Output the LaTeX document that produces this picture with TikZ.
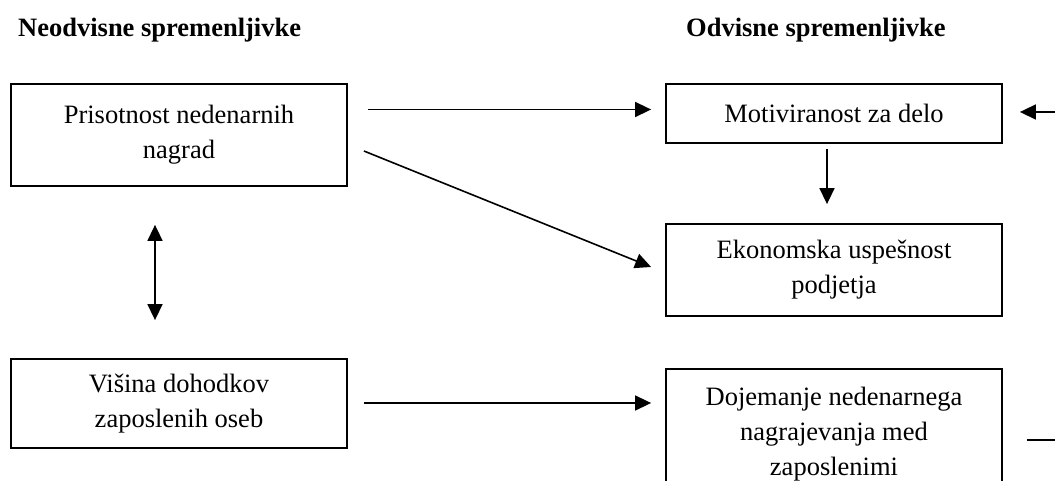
\documentclass[tikz,border=0pt]{standalone}
\usepackage{fontspec}
\setmainfont{Liberation Serif}
\usetikzlibrary{arrows.meta}
\begin{document}
\begin{tikzpicture}[x=1pt,y=1pt,
  box/.style={draw, line width=1.8pt, rectangle, minimum width=336pt, inner sep=0pt, align=center,
    font=\fontsize{26.5}{35}\selectfont},
  head/.style={anchor=base west, inner sep=0pt, font=\fontsize{26.5}{32}\selectfont\bfseries},
  arr/.style={line width=1.6pt, -{Triangle[length=16pt,width=15pt]}},
  dbl/.style={line width=1.6pt, {Triangle[length=16pt,width=15pt]}-{Triangle[length=16pt,width=15pt]}},
  plain/.style={line width=1.6pt}]
\useasboundingbox (0,0) rectangle (1055,481);
\clip (0,0) rectangle (1055,481);
\node[head] (h1) at (18,444) {Neodvisne spremenljivke};
\node[head] (h2) at (686,444) {Odvisne spremenljivke};
\node[box, minimum height=102pt] (b1) at (179,346) {Prisotnost nedenarnih\\nagrad};
\node[box, minimum height=59pt] (b2) at (834,367.5) {Motiviranost za delo};
\node[box, minimum height=92pt] (b3) at (834,211) {Ekonomska uspešnost\\podjetja};
\node[box, minimum height=89pt] (b4) at (179,77.5) {Višina dohodkov\\zaposlenih oseb};
\node[box, minimum height=130pt] (b5) at (834,47) {Dojemanje nedenarnega\\nagrajevanja med\\zaposlenimi};
\coordinate (r1) at (1060,369);
\coordinate (r2) at (1060,41);
\draw[arr] ([xshift=20pt,yshift=25.5pt]b1.east) -- ([xshift=-14pt,yshift=4pt]b2.west);
\draw[arr] ([xshift=16pt,yshift=-16pt]b1.east) -- ([xshift=-14pt,yshift=3pt]b3.west);
\draw[arr] ([xshift=-7pt,yshift=-5pt]b2.south) -- ([xshift=-7pt,yshift=19pt]b3.north);
\draw[dbl] ([xshift=-24pt,yshift=-38pt]b1.south) -- ([xshift=-24pt,yshift=38pt]b4.north);
\draw[arr] ([xshift=16pt,yshift=0.5pt]b4.east) -- ([xshift=-14pt,yshift=31pt]b5.west);
\draw[arr] (r1) -- ([xshift=17pt,yshift=1.5pt]b2.east);
\draw[plain] ([xshift=24pt,yshift=-6pt]b5.east) -- (r2);
\end{tikzpicture}
\end{document}
